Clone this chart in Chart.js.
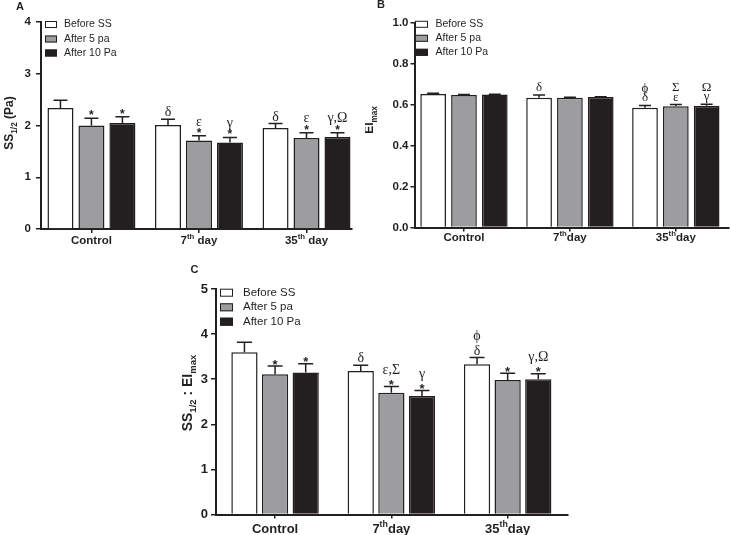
<!DOCTYPE html>
<html>
<head>
<meta charset="utf-8">
<script src="https://cdn.jsdelivr.net/npm/chart.js@4/dist/chart.umd.min.js"></script>
<style>
  html, body { margin: 0; padding: 0; background: #fff; }
  #page { position: relative; width: 730px; height: 535px; overflow: hidden; }
  .panel { position: absolute; }
  .panel canvas { display: block; }
</style>
</head>
<body>
<div id="page">
  <div class="panel" style="left:0;top:0"><canvas id="chart-a" width="365" height="250"></canvas></div>
  <div class="panel" style="left:365px;top:0"><canvas id="chart-b" width="365" height="250"></canvas></div>
  <div class="panel" style="left:180px;top:265px"><canvas id="chart-c" width="400" height="270"></canvas></div>
</div>
<script>
const groups = ['Control', '7th day', '35th day']
const seriesNames = ['Before SS', 'After 5 pa', 'After 10 Pa']
const seriesFills = ['#ffffff', '#9d9d9f', '#231f20']

// A - SS1/2 (Pa)
const ssTicks = [0, 1, 2, 3, 4]
const ssBefore = [2.34, 2.01, 1.95]
const ss5Pa = [2.00, 1.71, 1.76]
const ss10Pa = [2.05, 1.67, 1.78]
const ssBeforeSem = [0.15, 0.11, 0.09]
const ss5PaSem = [0.14, 0.09, 0.10]
const ss10PaSem = [0.12, 0.10, 0.08]
const ssBeforeSig = [[], ['δ'], ['δ']]
const ss5PaSig = [['*'], ['*', 'ε'], ['*', 'ε']]
const ss10PaSig = [['*'], ['*', 'γ'], ['*', 'γ,Ω']]

// B - EImax
const eiTicks = [0, 0.2, 0.4, 0.6, 0.8, 1.0]
const eiBefore = [0.652, 0.634, 0.585]
const ei5Pa = [0.647, 0.634, 0.592]
const ei10Pa = [0.649, 0.637, 0.595]
const eiBeforeSem = [0.003, 0.013, 0.011]
const ei5PaSem = [0.002, 0.002, 0.008]
const ei10PaSem = [0.002, 0.002, 0.007]
const eiBeforeSig = [[], ['δ'], ['δ', 'ϕ']]
const ei5PaSig = [[], [], ['ε', 'Σ']]
const ei10PaSig = [[], [], ['γ', 'Ω']]

// C - SS1/2 : EImax
const ratioTicks = [0, 1, 2, 3, 4, 5]
const ratioBefore = [3.60, 3.18, 3.33]
const ratio5Pa = [3.11, 2.70, 2.98]
const ratio10Pa = [3.15, 2.63, 3.00]
const ratioBeforeSem = [0.22, 0.13, 0.15]
const ratio5PaSem = [0.18, 0.14, 0.15]
const ratio10PaSem = [0.19, 0.12, 0.12]
const ratioBeforeSig = [[], ['δ'], ['δ', 'ϕ']]
const ratio5PaSig = [['*'], ['*', 'ε,Σ'], ['*']]
const ratio10PaSig = [['*'], ['*', 'γ'], ['*', 'γ,Ω']]

const SANS = '"Liberation Sans", Arial, sans-serif'
const SERIF = '"Liberation Serif", "Times New Roman", serif'
const INK = '#231f20'

const panels = [
  {
    id: 'chart-a', letter: 'A', letterAt: [20, 7],
    area: { left: 41, right: 352, top: 22, bottom: 229 },
    xMin: -0.469, xMax: 2.423, catPct: 0.864, barPct: 0.84,
    yTicks: ssTicks, decimals: 0,
    series: [ssBefore, ss5Pa, ss10Pa],
    sem: [ssBeforeSem, ss5PaSem, ss10PaSem],
    sig: [ssBeforeSig, ss5PaSig, ss10PaSig],
    font: 11.5, tickLen: 5, tickPad: 5, xLabelGap: 11, tight: false,
    title: [{ text: 'SS' }, { text: '1/2', sub: true }, { text: ' (Pa)' }],
    titleAt: [9, 123], titleSize: 12,
    legend: { x: 45, rows: [24.5, 39, 53], w: 12, h: 7, size: 10.5, gap: 7 },
    cap: 7, starSize: 12, starLift: 6, afterStar: 8.5, greekSize: 14, greekLift: 7, greekStep: 10
  },
  {
    id: 'chart-b', letter: 'B', letterAt: [16, 5],
    area: { left: 49.5, right: 364, top: 22.7, bottom: 227.5 },
    xMin: -0.467, xMax: 2.502, catPct: 0.873, barPct: 0.834,
    yTicks: eiTicks, decimals: 1,
    series: [eiBefore, ei5Pa, ei10Pa],
    sem: [eiBeforeSem, ei5PaSem, ei10PaSem],
    sig: [eiBeforeSig, ei5PaSig, ei10PaSig],
    font: 11.5, tickLen: 4, tickPad: 2, xLabelGap: 9, tight: true,
    title: [{ text: 'EI' }, { text: 'max', sub: true }],
    titleAt: [4, 120], titleSize: 12,
    legend: { x: 50, rows: [24.3, 38.3, 52.3], w: 13, h: 7, size: 10.5, gap: 7.5 },
    cap: 6, starSize: 12, starLift: 6, afterStar: 8.5, greekSize: 13, greekLift: 8, greekStep: 9.5
  },
  {
    id: 'chart-c', letter: 'C', letterAt: [14.5, 5],
    area: { left: 36, right: 388, top: 24, bottom: 249.5 },
    xMin: -0.508, xMax: 2.519, catPct: 0.79, barPct: 0.857,
    yTicks: ratioTicks, decimals: 0,
    series: [ratioBefore, ratio5Pa, ratio10Pa],
    sem: [ratioBeforeSem, ratio5PaSem, ratio10PaSem],
    sig: [ratioBeforeSig, ratio5PaSig, ratio10PaSig],
    font: 13, tickLen: 5, tickPad: 3, xLabelGap: 13.5, tight: true,
    title: [{ text: 'SS' }, { text: '1/2', sub: true }, { text: ' : EI' }, { text: 'max', sub: true }],
    titleAt: [7, 128], titleSize: 14,
    legend: { x: 40, rows: [27.7, 42.3, 56.7], w: 13, h: 8, size: 11.5, gap: 10 },
    cap: 7.5, starSize: 13, starLift: 5, afterStar: 11.5, greekSize: 14, greekLift: 7, greekStep: 15
  }
]

function splitOrdinal(label, tight) {
  const m = label.match(/^(\d+)(st|nd|rd|th) ?(.*)$/)
  if (!m) return [{ text: label }]
  return [{ text: m[1] }, { text: m[2], sup: true }, { text: (tight ? '' : ' ') + m[3] }]
}

function partFont(part, size) {
  const s = part.sub || part.sup ? size * 0.68 : size
  return `bold ${s}px ${SANS}`
}

function richWidth(ctx, parts, size) {
  return parts.reduce((w, part) => {
    ctx.font = partFont(part, size)
    return w + ctx.measureText(part.text).width
  }, 0)
}

// draws left-aligned from x on baseline y
function drawRich(ctx, parts, x, y, size) {
  ctx.textAlign = 'left'
  ctx.textBaseline = 'alphabetic'
  parts.forEach(part => {
    ctx.font = partFont(part, size)
    let dy = 0
    if (part.sub) dy = size * 0.28
    if (part.sup) dy = -size * 0.42
    ctx.fillText(part.text, x, y + dy)
    x += ctx.measureText(part.text).width
  })
}

function drawMarks(ctx, x, capY, lines, p) {
  let center = null
  ctx.textAlign = 'center'
  ctx.textBaseline = 'alphabetic'
  lines.forEach((txt, k) => {
    if (txt === '*') {
      center = capY - p.starLift
      ctx.font = `bold ${p.starSize}px ${SANS}`
      ctx.fillText('*', x, center + 0.58 * p.starSize)
    } else {
      if (center === null) center = capY - p.greekLift
      else if (lines[k - 1] === '*') center -= p.afterStar
      else center -= p.greekStep
      ctx.font = `${p.greekSize}px ${SERIF}`
      ctx.fillText(txt, x, center + 0.3 * p.greekSize)
    }
  })
}

function makeDecor(p) {
  return {
    id: 'panelDecor',
    afterDatasetsDraw(chart) {
      const { ctx } = chart
      const y = chart.scales.y
      ctx.save()
      ctx.strokeStyle = INK
      ctx.fillStyle = INK
      ctx.lineWidth = 1.5
      chart.data.datasets.forEach((ds, i) => {
        chart.getDatasetMeta(i).data.forEach((bar, j) => {
          const capY = y.getPixelForValue(p.series[i][j] + p.sem[i][j])
          ctx.beginPath()
          ctx.moveTo(bar.x, bar.y)
          ctx.lineTo(bar.x, capY)
          ctx.moveTo(bar.x - p.cap, capY)
          ctx.lineTo(bar.x + p.cap, capY)
          ctx.stroke()
          drawMarks(ctx, bar.x, capY, p.sig[i][j], p)
        })
      })
      ctx.restore()
    },
    afterDraw(chart) {
      const { ctx, chartArea } = chart
      const x = chart.scales.x
      ctx.save()
      ctx.fillStyle = INK

      // panel letter
      ctx.font = `bold 11px ${SANS}`
      ctx.textAlign = 'center'
      ctx.textBaseline = 'middle'
      ctx.fillText(p.letter, p.letterAt[0], p.letterAt[1])

      // group labels with superscripts
      groups.forEach((g, i) => {
        const parts = splitOrdinal(g, p.tight)
        const w = richWidth(ctx, parts, p.font)
        const cx = x.getPixelForValue(i)
        drawRich(ctx, parts, cx - w / 2, chartArea.bottom + p.xLabelGap + p.font * 0.36, p.font)
      })

      // rotated y title
      ctx.save()
      ctx.translate(p.titleAt[0], p.titleAt[1])
      ctx.rotate(-Math.PI / 2)
      const tw = richWidth(ctx, p.title, p.titleSize)
      drawRich(ctx, p.title, -tw / 2, p.titleSize * 0.36, p.titleSize)
      ctx.restore()

      // legend
      const lg = p.legend
      seriesNames.forEach((name, i) => {
        const cy = lg.rows[i]
        ctx.fillStyle = seriesFills[i]
        ctx.fillRect(lg.x, cy - lg.h / 2, lg.w, lg.h)
        ctx.strokeStyle = INK
        ctx.lineWidth = 1
        ctx.strokeRect(lg.x + 0.5, cy - lg.h / 2 + 0.5, lg.w - 1, lg.h - 1)
        ctx.fillStyle = INK
        ctx.font = `${lg.size}px ${SANS}`
        ctx.textAlign = 'left'
        ctx.textBaseline = 'middle'
        ctx.fillText(name, lg.x + lg.w + lg.gap, cy)
      })
      ctx.restore()
    }
  }
}

function buildChart(p) {
  const canvas = document.getElementById(p.id)
  const W = canvas.width
  const H = canvas.height
  const axisGrid = (len) => ({
    display: true,
    drawOnChartArea: false,
    drawTicks: true,
    tickLength: len,
    offset: false,
    color: INK,
    lineWidth: 1.5
  })

  return new Chart(canvas, {
    type: 'bar',
    data: {
      datasets: p.series.map((values, i) => ({
        label: seriesNames[i],
        data: values.map((v, j) => ({ x: j, y: v })),
        backgroundColor: seriesFills[i],
        borderColor: INK,
        borderWidth: 1.5,
        borderSkipped: 'start',
        categoryPercentage: p.catPct,
        barPercentage: p.barPct
      }))
    },
    options: {
      responsive: false,
      animation: false,
      events: [],
      layout: {
        autoPadding: false,
        padding: { top: p.area.top, right: W - p.area.right, left: 0, bottom: 0 }
      },
      plugins: {
        legend: { display: false },
        tooltip: { enabled: false }
      },
      scales: {
        x: {
          type: 'linear',
          offset: false,
          min: p.xMin,
          max: p.xMax,
          z: 1,
          afterBuildTicks: scale => { scale.ticks = groups.map((g, i) => ({ value: i })) },
          afterFit: scale => { scale.height = H - p.area.bottom },
          ticks: { display: false },
          grid: axisGrid(4),
          border: { display: true, color: INK, width: 2 }
        },
        y: {
          min: 0,
          max: p.yTicks[p.yTicks.length - 1],
          z: 1,
          afterBuildTicks: scale => { scale.ticks = p.yTicks.map(v => ({ value: v })) },
          afterFit: scale => { scale.width = p.area.left },
          ticks: {
            callback: v => Number(v).toFixed(p.decimals),
            color: INK,
            padding: p.tickPad,
            font: { family: SANS, size: p.font, weight: 'bold' }
          },
          grid: axisGrid(p.tickLen),
          border: { display: true, color: INK, width: 2 }
        }
      }
    },
    plugins: [makeDecor(p)]
  })
}

panels.forEach(buildChart)
</script>
</body>
</html>
